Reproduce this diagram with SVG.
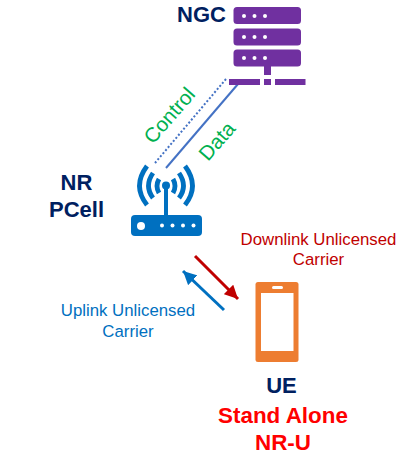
<svg xmlns="http://www.w3.org/2000/svg" width="419" height="463" viewBox="0 0 419 463">
<style>
text{font-family:"Liberation Sans",Arial,sans-serif}
.navy{fill:#002060;font-weight:700;font-size:22px}
.red{fill:#ff0000;font-weight:700;font-size:22.400px}
.grn{fill:#00b050;font-size:20.500px}
.srv{fill:#7030a0}
.dot{fill:#fff}
.blue{fill:#0070c0}
.wave{fill:none;stroke:#0070c0;stroke-width:4.800px}
.lbl{font-size:16.800px}
</style>
<defs>
<marker id="ar" markerWidth="4.500" markerHeight="4.500" refX="4.500" refY="2.250" orient="auto" markerUnits="strokeWidth"><path d="M0 0L4.500 2.250L0 4.500Z" fill="#c00000"/></marker>
<marker id="ab" markerWidth="4.500" markerHeight="4.500" refX="4.500" refY="2.250" orient="auto" markerUnits="strokeWidth"><path d="M0 0L4.500 2.250L0 4.500Z" fill="#0070c0"/></marker>
</defs>
<g id="connectors" fill="none">
<path d="M226 79L155 163" stroke="#4472c4" stroke-width="2" stroke-dasharray="2 2"/>
<path d="M238 84L166 168" stroke="#4472c4" stroke-width="2"/>
<path d="M195 256L238 299" stroke="#c00000" stroke-width="3" marker-end="url(#ar)"/>
<path d="M224 310L183 271" stroke="#0070c0" stroke-width="3" marker-end="url(#ab)"/>
</g>
<g id="ngc">
<rect class="srv" x="233.500" y="7" width="67.500" height="17" rx="3.500"/>
<rect class="srv" x="233.500" y="28.500" width="67.500" height="17" rx="3.500"/>
<rect class="srv" x="233.500" y="49.500" width="67.500" height="17" rx="3.500"/>
<circle class="dot" cx="244" cy="16" r="2"/><circle class="dot" cx="254.500" cy="16" r="2"/><circle class="dot" cx="265" cy="16" r="2"/>
<circle class="dot" cx="244" cy="37" r="2"/><circle class="dot" cx="254.500" cy="37" r="2"/><circle class="dot" cx="265" cy="37" r="2"/>
<circle class="dot" cx="244" cy="58" r="2"/><circle class="dot" cx="254.500" cy="58" r="2"/><circle class="dot" cx="265" cy="58" r="2"/>
<rect class="srv" x="264" y="66" width="7" height="9"/>
<rect class="srv" x="229" y="79" width="31" height="6"/>
<rect class="srv" x="264" y="79" width="7" height="6"/>
<rect class="srv" x="275" y="79" width="30.500" height="6"/>
<text class="navy" x="177" y="22">NGC</text>
</g>
<g id="pcell">
<rect class="blue" x="131" y="215" width="71" height="21" rx="4"/>
<rect class="blue" x="164" y="186" width="4" height="30"/>
<circle class="blue" cx="166" cy="185.500" r="4"/>
<path class="wave" d="M159 179Q155 186 159 193M173 179Q177 186 173 193M153 173Q144 186 153 198M179 173Q188 186 179 198M147 166Q132 186 147 205M185 166Q200 186 185 205"/>
<circle class="dot" cx="141" cy="226" r="4"/>
<circle class="dot" cx="162" cy="225.500" r="2"/><circle class="dot" cx="172.500" cy="225.500" r="2"/><circle class="dot" cx="183" cy="225.500" r="2"/><circle class="dot" cx="193.500" cy="225.500" r="2"/>
<text class="navy" x="76.500" y="190" text-anchor="middle">NR</text>
<text class="navy" x="76.500" y="217" text-anchor="middle">PCell</text>
</g>
<g id="ue">
<rect x="255.500" y="282" width="43" height="80" rx="2.500" fill="#ed7d31"/>
<rect x="261" y="293" width="32.500" height="58" fill="#fff"/>
<rect x="272" y="286" width="11" height="3" rx="1.500" fill="#fff"/>
<text class="navy" x="281.500" y="393" text-anchor="middle">UE</text>
</g>
<g id="labels">
<text class="grn" transform="translate(153 145) rotate(-49)">Control</text>
<text class="grn" transform="translate(208 162) rotate(-49)">Data</text>
<text class="lbl" fill="#c00000" x="318.500" y="245" text-anchor="middle">Downlink Unlicensed</text>
<text class="lbl" fill="#c00000" x="318.500" y="265" text-anchor="middle">Carrier</text>
<text class="lbl" fill="#0070c0" x="128" y="316" text-anchor="middle">Uplink Unlicensed</text>
<text class="lbl" fill="#0070c0" x="128" y="337" text-anchor="middle">Carrier</text>
<text class="red" x="283" y="423" text-anchor="middle">Stand Alone</text>
<text class="red" x="283" y="450" text-anchor="middle">NR-U</text>
</g>
</svg>
